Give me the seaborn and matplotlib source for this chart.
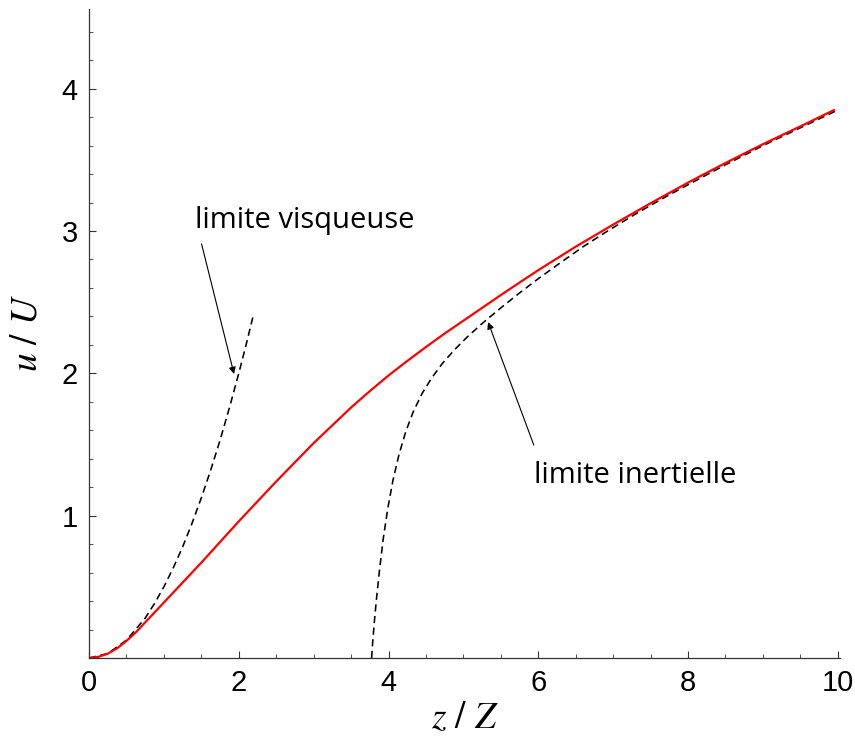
import numpy as np
import pandas as pd
import matplotlib
matplotlib.use('Agg')
import matplotlib.pyplot as plt
import seaborn as sns

# full solution (red)
z_full = [0, 0.125, 0.25, 0.375, 0.5, 0.625, 0.75, 0.875, 1.0, 1.25, 1.5, 1.75, 2.0,
          2.25, 2.5, 2.75, 3.0, 3.25, 3.5, 3.75, 4.0, 4.25, 4.5, 4.75, 5.0, 5.25,
          5.5, 5.75, 6.0, 6.5, 7.0, 7.5, 8.0, 8.5, 9.0, 9.5, 9.95]
u_full = [0, 0.008, 0.03, 0.068, 0.12, 0.18, 0.25, 0.32, 0.39, 0.53, 0.67, 0.815, 0.96,
          1.10, 1.24, 1.375, 1.51, 1.635, 1.76, 1.875, 1.985, 2.087, 2.185, 2.28, 2.37,
          2.46, 2.55, 2.638, 2.725, 2.89, 3.045, 3.195, 3.34, 3.478, 3.61, 3.735, 3.85]

# viscous limit (dashed)
z_visc = [0, 0.25, 0.5, 0.75, 0.875, 1.0, 1.125, 1.25, 1.375, 1.5, 1.625, 1.75,
          1.875, 2.0, 2.1, 2.2]
u_visc = [0, 0.031, 0.125, 0.28, 0.383, 0.5, 0.633, 0.78, 0.945, 1.125, 1.32, 1.53,
          1.758, 2.0, 2.205, 2.42]

# inertial limit (dashed)
z_iner = [3.774, 3.79, 3.81, 3.84, 3.88, 3.93, 3.99, 4.06, 4.14, 4.23, 4.33, 4.45,
          4.58, 4.72, 4.88, 5.05, 5.25, 5.5, 5.75, 6.0, 6.29, 6.6, 6.91, 7.3, 7.7,
          8.0, 8.5, 9.0, 9.5, 10.0]
u_iner = [0.0, 0.12, 0.25, 0.42, 0.62, 0.84, 1.05, 1.25, 1.43, 1.59, 1.73, 1.86,
          1.97, 2.07, 2.165, 2.255, 2.35, 2.46, 2.565, 2.665, 2.775, 2.89, 2.995,
          3.12, 3.24, 3.325, 3.465, 3.60, 3.725, 3.85]

x_ticks = [0, 2, 4, 6, 8, 10]
y_ticks = [1, 2, 3, 4]

sns.set_style('ticks')
plt.rcParams['font.family'] = ['Liberation Sans', 'DejaVu Sans']
plt.rcParams['mathtext.fontset'] = 'stix'
plt.rcParams['text.color'] = 'black'
plt.rcParams['axes.labelcolor'] = 'black'
plt.rcParams['xtick.color'] = 'black'
plt.rcParams['ytick.color'] = 'black'

fig = plt.figure(figsize=(8.55, 7.42), dpi=100)
ax = fig.add_axes([0.1041, 0.1132, 0.8784, 0.8747])

sns.lineplot(x=z_iner, y=u_iner, ax=ax, color='black', lw=1.15,
             estimator=None, sort=False).lines[-1].set_dashes((4.5, 2.8))
sns.lineplot(x=z_visc, y=u_visc, ax=ax, color='black', lw=1.15,
             estimator=None, sort=False).lines[-1].set_dashes((4.5, 2.8))
sns.lineplot(x=z_full, y=u_full, ax=ax, color='#ff0000', lw=1.6,
             estimator=None, sort=False)

ax.set_xlim(0, 10.03)
ax.set_ylim(0, 4.56)

for side in ['top', 'right']:
    ax.spines[side].set_visible(False)
for side in ['left', 'bottom']:
    ax.spines[side].set_color('#333333')
    ax.spines[side].set_linewidth(0.9)

ax.set_xticks(x_ticks)
ax.set_yticks(y_ticks)
ax.set_xticks(np.arange(0, 10.01, 0.5), minor=True)
ax.set_yticks(np.arange(0, 4.55, 0.2), minor=True)
ax.tick_params(axis='both', which='both', bottom=True, left=True)
ax.tick_params(axis='both', which='major', direction='in', length=5, width=0.8,
               color='#333333', labelsize=21, pad=8)
ax.tick_params(axis='both', which='minor', direction='in', length=3, width=0.6,
               color='#333333')

ax.set_xlabel(r'$z\ /\ Z$', fontsize=27, labelpad=2)
ax.set_ylabel(r'$u\ /\ U$', fontsize=27, labelpad=12)

ax.annotate('limite visqueuse', xy=(1.937, 1.995), xytext=(1.415, 3.02),
            fontsize=21, family=['Open Sans', 'DejaVu Sans'], ha='left', va='baseline',
            color='black',
            arrowprops=dict(arrowstyle='-|>', color='black', lw=0.8,
                            mutation_scale=10, shrinkA=0, shrinkB=0,
                            relpos=(0.03, -0.3)))
ax.annotate('limite inertielle', xy=(5.33, 2.36), xytext=(5.94, 1.23),
            fontsize=21, family=['Open Sans', 'DejaVu Sans'], ha='left', va='baseline',
            color='black',
            arrowprops=dict(arrowstyle='-|>', color='black', lw=0.8,
                            mutation_scale=10, shrinkA=0, shrinkB=0,
                            relpos=(0.0, 1.55)))

fig.savefig('out.png', dpi=100)
